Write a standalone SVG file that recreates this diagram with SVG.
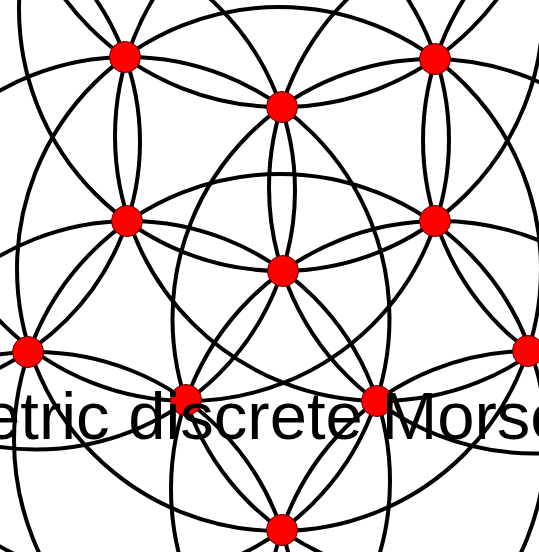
<svg xmlns="http://www.w3.org/2000/svg" width="539" height="552" viewBox="0 0 539 552">
<style>
.arc{fill:none;stroke:#000;stroke-width:4}
.node{fill:#ff0000;stroke:#5a0000;stroke-width:1}
.label{font-family:"Liberation Sans",Arial,sans-serif;font-size:67px;fill:#000}
</style>
<rect x="0" y="0" width="539" height="552" fill="#fff"/>
<g id="connectors">
<circle class="arc" cx="279" cy="269" r="262"/>
<circle class="arc" cx="281" cy="-163" r="270"/>
<circle class="arc" cx="281" cy="9" r="262"/>
<circle class="arc" cx="280" cy="440" r="266"/>
<circle class="arc" cx="-112" cy="142" r="252"/>
<circle class="arc" cx="686" cy="140" r="263"/>
<circle class="arc" cx="380" cy="136" r="265"/>
<circle class="arc" cx="188" cy="140" r="261"/>
<circle class="arc" cx="128" cy="318.5" r="261.5"/>
<circle class="arc" cx="432" cy="318.5" r="259.5"/>
<circle class="arc" cx="36" cy="190.5" r="259"/>
<circle class="arc" cx="535" cy="187.5" r="266"/>
<circle class="arc" cx="130" cy="481" r="260"/>
<circle class="arc" cx="439" cy="489" r="268"/>
<circle class="arc" cx="35" cy="612" r="260"/>
<circle class="arc" cx="531" cy="614" r="263"/>
</g>
<g id="n-A"><circle class="node" cx="125" cy="57" r="15.5"/></g>
<g id="n-B"><circle class="node" cx="282" cy="107" r="15.5"/></g>
<g id="n-C"><circle class="node" cx="435" cy="59" r="15.5"/></g>
<g id="n-D"><circle class="node" cx="127" cy="221" r="15.5"/></g>
<g id="n-E"><circle class="node" cx="283" cy="271" r="15.5"/></g>
<g id="n-F"><circle class="node" cx="435" cy="221" r="15.5"/></g>
<g id="n-G"><circle class="node" cx="28" cy="352" r="15.5"/></g>
<g id="n-H"><circle class="node" cx="186" cy="400" r="15.5"/></g>
<g id="n-I"><circle class="node" cx="377" cy="401" r="15.5"/></g>
<g id="n-J"><circle class="node" cx="528" cy="351" r="15.5"/></g>
<g id="n-K"><circle class="node" cx="282" cy="530" r="15.5"/></g>
<text class="label" x="-17" y="439">etric discrete Morse</text>
</svg>
